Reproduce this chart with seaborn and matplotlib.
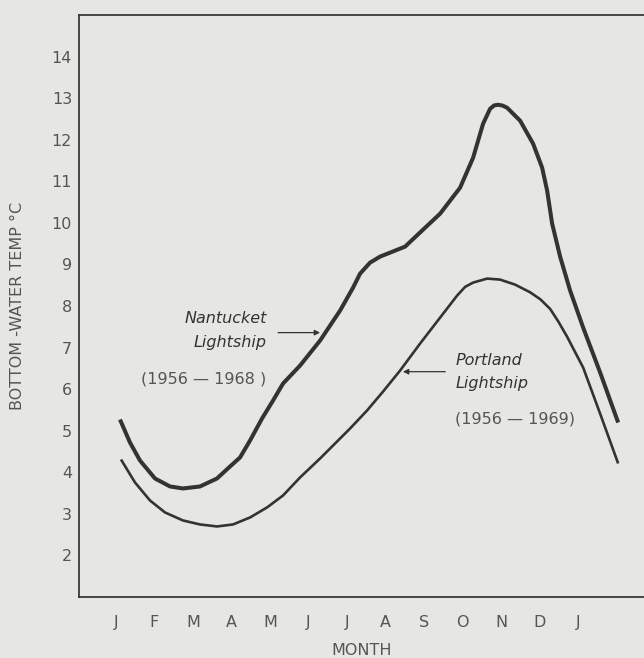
import matplotlib
matplotlib.use("Agg")
import matplotlib.pyplot as plt
import seaborn as sns
import pandas as pd

# ---- data ----
month_labels = ["J", "F", "M", "A", "M", "J", "J", "A", "S", "O", "N", "D", "J"]
temp_ticks = [2, 3, 4, 5, 6, 7, 8, 9, 10, 11, 12, 13, 14]

nantucket_x = [0.104, 0.364, 0.623, 1.013, 1.403, 1.740, 2.182, 2.623, 2.961,
               3.221, 3.481, 3.792, 4.078, 4.338, 4.779, 5.299, 5.818, 6.156,
               6.338, 6.597, 6.857, 7.117, 7.506, 7.974, 8.416, 8.935, 9.273,
               9.532, 9.714, 9.820, 9.922, 10.040, 10.156, 10.494, 10.831,
               11.065, 11.195, 11.325, 11.532, 11.792, 12.130, 12.571, 13.039]
nantucket_y = [5.269, 4.716, 4.284, 3.851, 3.659, 3.611, 3.659, 3.851, 4.139,
               4.356, 4.764, 5.293, 5.726, 6.135, 6.567, 7.168, 7.889, 8.442,
               8.779, 9.043, 9.188, 9.284, 9.428, 9.837, 10.221, 10.846, 11.567,
               12.385, 12.745, 12.825, 12.841, 12.820, 12.769, 12.457, 11.904,
               11.327, 10.774, 9.981, 9.188, 8.370, 7.481, 6.400, 5.197]

portland_x = [0.130, 0.494, 0.883, 1.273, 1.740, 2.182, 2.623, 3.039, 3.481,
              3.922, 4.338, 4.779, 5.299, 5.636, 6.078, 6.519, 6.935, 7.377,
              7.896, 8.416, 8.857, 9.065, 9.273, 9.636, 9.974, 10.364, 10.753,
              11.020, 11.273, 11.490, 11.714, 12.130, 12.571, 13.039]
portland_y = [4.308, 3.755, 3.322, 3.034, 2.841, 2.745, 2.697, 2.745, 2.913,
              3.154, 3.442, 3.875, 4.332, 4.644, 5.053, 5.486, 5.942, 6.447,
              7.096, 7.721, 8.250, 8.460, 8.563, 8.659, 8.635, 8.514, 8.330,
              8.160, 7.930, 7.620, 7.260, 6.519, 5.410, 4.212]

nantucket = pd.DataFrame({"month": nantucket_x, "temp": nantucket_y})
portland = pd.DataFrame({"month": portland_x, "temp": portland_y})

# ---- style ----
sns.set_style("white")
plt.rcParams["font.family"] = ["DejaVu Sans"]
bg = "#e6e6e3"
ink = "#333333"
txt = "#555555"

fig = plt.figure(figsize=(6.44, 6.58), dpi=100, facecolor=bg)
ax = fig.add_axes([79 / 644, 61 / 658, 1 - 79 / 644, (597 - 15) / 658])
ax.set_facecolor(bg)

sns.lineplot(data=nantucket, x="month", y="temp", ax=ax, color=ink,
             linewidth=2.9, estimator=None, sort=False,
             solid_joinstyle="round", solid_capstyle="butt")
sns.lineplot(data=portland, x="month", y="temp", ax=ax, color=ink,
             linewidth=1.9, estimator=None, sort=False,
             solid_joinstyle="round", solid_capstyle="butt")

ax.set_xlim(-0.96, 13.71)
ax.set_ylim(1.0, 15.0)
ax.set_xticks(range(len(month_labels)))
ax.set_xticklabels(month_labels)
ax.set_yticks(temp_ticks)
ax.set_yticklabels([str(t) for t in temp_ticks])

ax.tick_params(axis="both", direction="in", length=6, width=1.0, color="#444444",
               labelsize=11.5, labelcolor=txt)
ax.tick_params(axis="x", pad=13)
ax.tick_params(axis="y", pad=5)

for side in ["left", "bottom", "top"]:
    ax.spines[side].set_visible(True)
    ax.spines[side].set_color("#3a3a3a")
    ax.spines[side].set_linewidth(1.3)
ax.spines["right"].set_visible(False)

ax.set_xlabel("MONTH", fontsize=11.5, color=txt, labelpad=9)
ax.set_ylabel("BOTTOM -WATER TEMP °C", fontsize=11.5, color=txt, labelpad=19)

# ---- annotations ----
fs = 11.5
ax.text(3.92, 7.70, "Nantucket", style="italic", fontsize=fs, color=ink,
        ha="right", va="center")
ax.text(3.92, 7.12, "Lightship", style="italic", fontsize=fs, color=ink,
        ha="right", va="center")
ax.text(3.90, 6.25, "(1956 — 1968 )", fontsize=fs, color=txt,
        ha="right", va="center")
ax.annotate("", xy=(5.30, 7.36), xytext=(4.21, 7.36),
            arrowprops=dict(arrowstyle="-|>", color=ink, lw=0.9,
                            mutation_scale=8, shrinkA=0, shrinkB=0))

ax.text(8.81, 6.69, "Portland", style="italic", fontsize=fs, color=ink,
        ha="left", va="center")
ax.text(8.81, 6.13, "Lightship", style="italic", fontsize=fs, color=ink,
        ha="left", va="center")
ax.text(8.81, 5.29, "(1956 — 1969)", fontsize=fs, color=txt,
        ha="left", va="center")
ax.annotate("", xy=(7.45, 6.42), xytext=(8.55, 6.42),
            arrowprops=dict(arrowstyle="-|>", color=ink, lw=0.9,
                            mutation_scale=8, shrinkA=0, shrinkB=0))

fig.savefig("out.png", dpi=100, facecolor=bg)
